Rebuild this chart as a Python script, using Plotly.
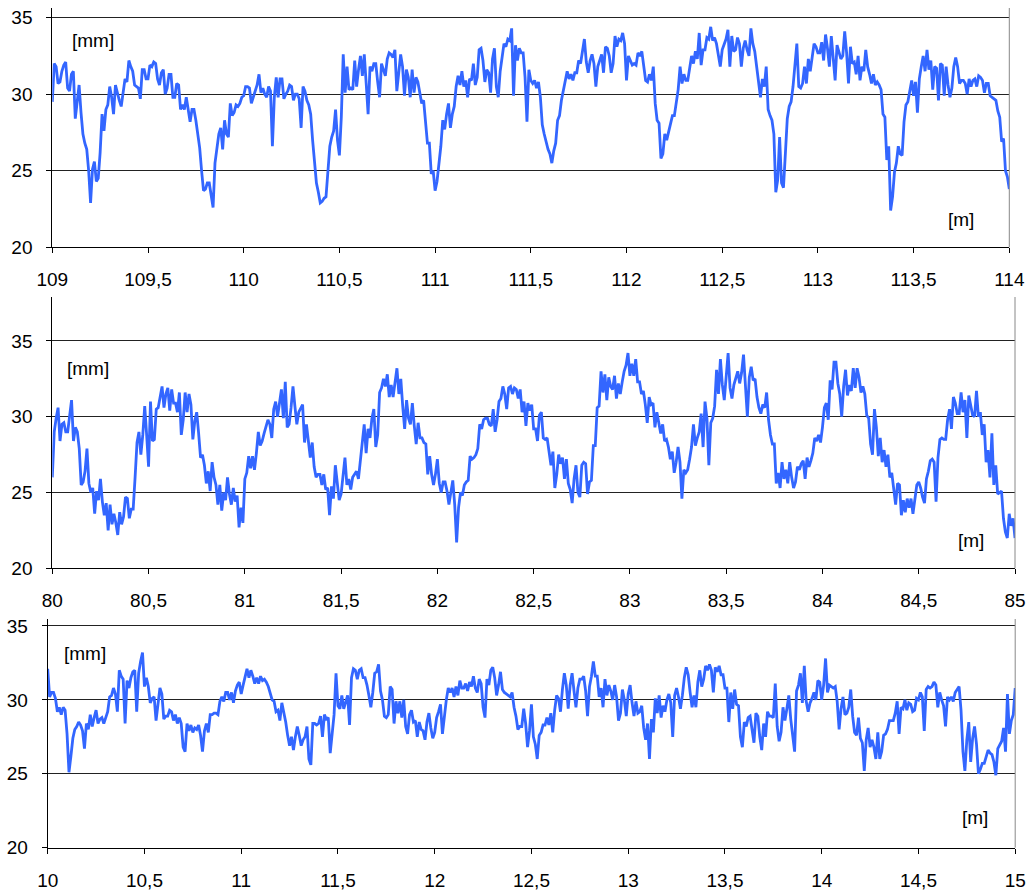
import numpy as np
import plotly.graph_objects as go

# distance sampling (m): readings on a 0.02 m grid ("on") and at the midpoints ("mid")
step_m = 0.02
start_1, start_2, start_3 = 109.0, 80.0, 10.0

# ---- panel 1 : 109 - 114 m  [mm]
depth_1_on = [
    29.5, 31.8, 30.8, 31.9, 30.4, 31.3, 28.4, 30.6, 27.4, 26.4,
    22.9, 25.6, 24.5, 28.7, 29.0, 30.5, 28.7, 30.0, 29.2, 31.0,
    32.2, 31.5, 30.5, 29.7, 31.6, 31.0, 31.8, 32.0, 30.6, 31.6,
    30.4, 31.3, 29.8, 30.6, 29.3, 29.8, 28.2, 29.0, 27.3, 25.0,
    23.8, 24.2, 22.6, 26.5, 27.8, 28.3, 27.2, 28.6, 29.3, 29.4,
    29.9, 30.5, 29.4, 30.3, 31.3, 30.4, 29.8, 30.2, 29.8, 29.8,
    31.0, 30.0, 30.6, 29.6, 30.0, 27.8, 30.2, 29.3, 27.0, 24.2,
    22.9, 23.2, 24.8, 27.2, 29.0, 26.0, 32.6, 31.8, 30.4, 32.2,
    31.6, 31.2, 30.7, 31.8, 32.0, 30.8, 32.0, 31.2, 32.7, 32.4,
    30.2, 32.6, 29.9, 31.1, 31.6, 31.1, 30.0, 29.6, 26.8, 24.8,
    23.7, 25.3, 28.3, 28.7, 27.8, 29.2, 31.2, 31.5, 30.9, 31.0,
    32.0, 31.1, 33.0, 30.8, 31.4, 32.3, 30.5, 31.5, 33.3, 33.6,
    34.3, 33.2, 33.0, 32.7, 28.2, 30.9, 30.9, 30.8, 28.0, 26.8,
    26.1, 26.3, 28.3, 29.6, 30.9, 31.0, 30.9, 31.4, 32.0, 33.6,
    31.4, 32.6, 30.5, 32.2, 31.4, 33.0, 31.4, 33.8, 33.6, 34.0,
    30.9, 32.2, 32.0, 32.7, 32.8, 30.9, 31.3, 31.8, 28.3, 25.8,
    27.4, 27.5, 28.6, 29.6, 31.8, 31.3, 30.9, 32.5, 32.8, 34.0,
    32.9, 33.7, 34.4, 33.7, 32.5, 32.9, 33.6, 31.8, 32.8, 33.7,
    31.8, 33.5, 32.5, 33.3, 31.9, 29.8, 30.5, 29.0, 28.3, 23.6,
    27.2, 23.9, 28.4, 29.5, 32.1, 30.5, 30.7, 30.7, 31.5, 33.3,
    32.7, 33.4, 33.9, 31.8, 32.4, 33.2, 32.3, 34.1, 30.7, 32.0,
    31.3, 30.9, 31.5, 31.8, 30.7, 30.6, 30.6, 28.7, 25.7, 22.4,
    24.9, 26.6, 26.0, 29.3, 30.3, 29.9, 28.8, 31.8, 31.5, 31.6,
    30.3, 31.7, 32.0, 29.9, 30.6, 30.4, 32.4, 30.7, 30.9, 30.0,
    30.5, 31.0, 31.2, 30.9, 30.7, 29.9, 29.7, 28.9, 26.9, 25.0,
    23.8,
]
depth_1_mid = [
    32.0, 30.7, 31.5, 32.1, 30.2, 31.5, 29.5, 28.8, 26.8, 25.0,
    25.1, 24.3, 26.2, 27.6, 29.3, 29.8, 30.6, 29.6, 30.2, 30.8,
    31.8, 30.6, 30.4, 31.6, 31.0, 31.9, 32.1, 31.0, 31.4, 30.0,
    31.3, 29.8, 30.7, 29.0, 29.0, 29.0, 29.0, 28.3, 26.5, 23.7,
    24.2, 23.4, 25.5, 27.4, 26.4, 27.4, 29.4, 28.8, 29.2, 29.8,
    30.5, 30.4, 29.8, 30.6, 30.1, 30.0, 30.5, 26.6, 31.1, 31.0,
    29.7, 30.2, 30.5, 30.0, 29.7, 30.5, 29.6, 28.7, 25.5, 23.6,
    23.0, 23.3, 26.6, 27.6, 27.0, 28.5, 30.1, 30.3, 30.3, 30.5,
    32.5, 32.6, 28.7, 31.5, 32.0, 29.8, 31.6, 32.3, 32.6, 32.9,
    31.4, 31.8, 31.6, 29.8, 30.1, 30.8, 29.4, 27.9, 26.8, 25.0,
    24.3, 26.6, 27.7, 29.4, 28.7, 30.5, 30.6, 30.5, 29.8, 30.9,
    30.6, 32.9, 32.2, 31.6, 30.1, 33.0, 29.8, 32.5, 33.1, 33.5,
    29.9, 32.2, 32.7, 31.1, 31.6, 30.7, 30.4, 29.8, 27.4, 26.4,
    25.5, 26.8, 28.6, 30.2, 31.5, 31.3, 31.4, 32.2, 32.9, 32.1,
    32.2, 32.0, 31.8, 32.6, 33.1, 32.5, 32.0, 33.1, 33.5, 33.3,
    32.5, 31.9, 31.9, 32.5, 31.9, 30.8, 30.9, 29.4, 28.1, 26.1,
    27.0, 27.9, 28.6, 30.3, 30.7, 30.9, 31.8, 32.0, 32.3, 31.9,
    32.9, 33.6, 33.5, 33.3, 31.8, 33.3, 34.2, 33.8, 32.9, 33.3,
    33.0, 32.9, 34.3, 32.8, 30.9, 31.0, 31.8, 28.6, 27.4, 24.4,
    24.2, 26.1, 29.2, 30.5, 33.3, 30.4, 31.8, 32.3, 32.5, 33.1,
    32.7, 32.2, 33.0, 33.8, 30.9, 32.7, 32.5, 32.7, 33.1, 32.1,
    32.5, 31.8, 32.9, 31.3, 31.3, 30.8, 30.3, 28.5, 26.6, 23.3,
    25.5, 26.1, 28.2, 29.5, 30.9, 30.8, 31.0, 32.5, 32.9, 32.2,
    31.8, 29.6, 31.9, 31.8, 29.8, 31.8, 31.8, 30.9, 30.7, 31.0,
    30.9, 30.5, 31.1, 30.1, 30.7, 29.8, 29.6, 28.5, 27.1, 24.6,
]

# ---- panel 2 : 80 - 85 m  [mm]
depth_2_on = [
    26.0, 29.9, 28.4, 29.6, 29.0, 31.1, 29.3, 27.9, 25.7, 27.9,
    25.0, 23.6, 24.5, 24.4, 24.3, 24.2, 23.6, 22.2, 22.9, 24.7,
    23.3, 23.9, 28.3, 27.5, 30.7, 26.7, 28.4, 30.5, 31.2, 30.6,
    31.9, 31.8, 30.9, 31.6, 29.8, 30.3, 30.8, 29.7, 28.9, 27.5,
    25.6, 25.1, 26.0, 24.2, 23.8, 24.5, 24.9, 25.3, 24.8, 24.0,
    25.9, 27.4, 27.4, 27.6, 28.1, 28.9, 29.8, 28.6, 31.0, 30.9,
    29.9, 29.3, 30.6, 30.7, 30.3, 30.8, 29.5, 27.3, 26.7, 26.2,
    25.5, 25.2, 23.5, 24.6, 25.6, 24.9, 27.3, 25.9, 26.0, 26.4,
    27.2, 29.5, 29.2, 29.9, 28.0, 31.6, 32.5, 32.8, 32.1, 32.4,
    31.5, 30.7, 31.1, 29.5, 29.4, 29.6, 28.6, 28.2, 27.4, 25.5,
    27.2, 25.0, 25.7, 24.2, 25.8, 21.7, 25.0, 25.5, 25.8, 27.2,
    27.5, 29.5, 29.8, 29.9, 29.4, 29.0, 31.0, 32.0, 30.5, 32.0,
    31.9, 31.2, 30.3, 29.4, 30.4, 29.2, 28.4, 30.3, 28.5, 27.7,
    27.7, 26.2, 26.9, 25.9, 25.6, 24.3, 26.8, 24.7, 27.0, 24.9,
    25.8, 28.1, 30.7, 31.6, 31.1, 32.0, 32.7, 32.2, 32.3, 33.4,
    32.7, 32.7, 32.3, 31.5, 30.8, 31.3, 30.9, 30.3, 28.9, 28.4,
    28.0, 27.7, 27.0, 27.0, 26.5, 26.5, 28.0, 28.1, 29.0, 28.0,
    29.9, 29.6, 30.7, 31.5, 32.1, 32.5, 31.9, 32.1, 33.0, 32.9,
    32.3, 32.6, 32.4, 31.3, 30.2, 30.6, 29.8, 28.2, 25.6, 25.3,
    25.9, 25.6, 26.0, 25.7, 26.5, 27.1, 27.3, 27.1, 28.6, 28.8,
    29.3, 30.9, 32.4, 33.6, 32.2, 30.0, 33.1, 32.1, 33.2, 33.2,
    31.6, 31.5, 29.9, 27.5, 29.3, 28.6, 27.8, 27.5, 26.3, 24.2,
    25.5, 24.5, 24.6, 24.6, 24.4, 25.7, 24.7, 25.9, 27.1, 27.0,
    27.3, 28.6, 28.5, 30.5, 31.3, 30.2, 31.6, 31.1, 31.4, 30.1,
    31.7, 30.3, 29.5, 27.8, 28.9, 26.8, 25.0, 23.3, 22.0, 22.8,
    22.0,
]
depth_2_mid = [
    29.0, 30.6, 29.5, 29.0, 30.1, 28.4, 29.0, 25.5, 26.4, 25.6,
    25.3, 25.1, 25.9, 23.5, 22.5, 22.9, 23.0, 23.7, 23.4, 24.6,
    23.9, 26.0, 29.0, 28.8, 28.8, 31.0, 28.5, 30.6, 32.0, 31.5,
    30.4, 30.9, 30.3, 28.8, 31.6, 31.5, 28.5, 30.3, 27.3, 26.8,
    26.4, 27.0, 25.5, 25.5, 25.0, 26.0, 24.2, 24.4, 22.7, 23.0,
    26.3, 26.6, 26.5, 29.0, 28.4, 29.4, 29.5, 30.5, 30.0, 31.8,
    32.3, 29.5, 32.0, 29.5, 30.6, 28.3, 28.4, 28.3, 26.0, 26.2,
    26.2, 25.3, 25.4, 26.8, 24.5, 26.2, 25.5, 25.2, 26.2, 25.9,
    28.5, 27.6, 28.6, 30.5, 28.8, 31.9, 32.0, 31.3, 31.3, 33.2,
    32.5, 29.2, 29.9, 30.9, 28.2, 28.6, 28.3, 26.2, 26.2, 26.2,
    25.6, 25.7, 25.1, 25.0, 24.2, 24.0, 24.8, 25.7, 27.4, 27.3,
    27.9, 29.2, 29.9, 29.5, 30.5, 29.8, 31.2, 31.5, 31.9, 31.5,
    31.8, 31.8, 31.0, 30.9, 30.8, 29.2, 30.1, 28.6, 28.6, 26.8,
    25.3, 27.5, 27.3, 27.2, 25.2, 25.9, 25.0, 26.8, 26.9, 25.7,
    28.1, 30.6, 33.0, 32.8, 32.6, 31.8, 31.2, 31.5, 33.0, 34.2,
    33.5, 33.8, 32.3, 31.7, 29.6, 30.8, 29.3, 29.7, 29.5, 28.5,
    27.2, 26.3, 28.0, 24.6, 26.3, 27.2, 29.5, 28.6, 30.2, 31.0,
    26.8, 29.9, 33.1, 33.8, 31.1, 34.2, 31.2, 32.5, 32.2, 34.1,
    30.0, 33.3, 32.5, 30.6, 30.8, 31.6, 28.8, 28.2, 26.3, 27.0,
    26.5, 27.0, 25.3, 26.7, 26.9, 25.9, 26.7, 27.6, 28.4, 28.3,
    30.6, 29.8, 31.8, 33.6, 31.5, 32.0, 31.4, 31.7, 31.9, 32.6,
    32.0, 30.1, 28.2, 30.5, 27.4, 27.0, 26.7, 26.0, 25.3, 25.6,
    23.5, 23.7, 24.0, 23.6, 25.5, 25.3, 24.3, 26.4, 27.2, 24.4,
    28.5, 28.5, 29.8, 29.2, 30.9, 30.2, 30.3, 28.6, 30.6, 30.0,
    30.0, 28.8, 27.0, 26.0, 25.5, 24.9, 25.1, 22.4, 23.6, 23.3,
]

# ---- panel 3 : 10 - 15 m  [mm]
depth_3_on = [
    32.1, 30.5, 30.1, 29.5, 29.5, 27.7, 26.2, 28.0, 28.5, 27.9,
    28.4, 29.0, 28.8, 28.4, 28.8, 28.8, 30.2, 30.8, 29.2, 31.6,
    28.4, 30.8, 31.9, 29.2, 32.6, 30.9, 30.9, 30.1, 28.6, 30.8,
    28.7, 28.9, 29.2, 29.0, 28.8, 26.8, 28.4, 28.3, 28.1, 28.3,
    26.5, 28.4, 29.0, 29.1, 29.0, 30.2, 30.5, 30.0, 29.8, 31.0,
    30.4, 31.6, 31.5, 31.6, 31.5, 31.6, 31.4, 30.9, 30.0, 29.2,
    28.6, 29.2, 27.6, 27.5, 27.5, 27.6, 27.3, 28.2, 25.6, 28.4,
    28.4, 27.5, 28.7, 26.4, 29.0, 29.6, 30.3, 29.8, 28.3, 32.1,
    31.4, 32.1, 31.5, 30.3, 30.5, 31.9, 30.6, 28.9, 29.0, 30.7,
    29.9, 29.9, 30.0, 27.7, 29.3, 28.6, 28.5, 27.9, 28.5, 28.1,
    27.8, 29.2, 27.7, 30.0, 30.5, 30.2, 30.3, 30.8, 31.1, 31.2,
    31.6, 30.5, 31.1, 28.8, 31.0, 32.2, 30.3, 31.9, 30.5, 30.3,
    30.5, 28.9, 28.2, 29.4, 26.8, 29.7, 27.0, 27.6, 28.3, 28.8,
    29.1, 29.3, 30.1, 30.7, 31.0, 31.0, 30.6, 30.8, 31.4, 30.6,
    30.9, 32.6, 31.6, 30.8, 31.4, 31.0, 30.0, 30.2, 29.1, 30.0,
    30.4, 29.8, 29.9, 29.2, 28.1, 28.4, 28.7, 30.1, 30.3, 29.6,
    30.0, 29.8, 30.3, 30.2, 30.3, 32.2, 30.5, 30.3, 31.2, 30.9,
    32.3, 32.4, 30.5, 31.9, 31.7, 30.8, 28.5, 29.4, 29.7, 27.5,
    28.5, 28.8, 28.0, 29.1, 27.5, 28.4, 29.2, 28.9, 31.1, 27.2,
    29.5, 29.4, 28.7, 26.5, 31.0, 29.8, 29.9, 29.8, 30.5, 31.3,
    30.0, 32.8, 31.0, 30.8, 29.9, 29.4, 29.0, 29.5, 28.9, 27.6,
    27.4, 25.2, 28.1, 27.3, 26.0, 26.0, 27.6, 28.0, 28.6, 29.1,
    27.7, 29.4, 29.3, 29.7, 29.3, 30.0, 30.2, 30.7, 30.8, 31.2,
    29.5, 30.0, 28.2, 30.0, 29.9, 30.7, 29.3, 25.2, 28.5, 27.4,
    27.0, 25.3, 25.7, 26.6, 26.3, 24.9, 27.0, 28.1, 30.4, 28.6,
    30.8,
]
depth_3_mid = [
    30.2, 30.5, 29.2, 29.0, 29.3, 25.1, 27.4, 28.2, 28.3, 26.7,
    28.0, 28.2, 29.3, 28.7, 28.4, 29.2, 30.3, 30.4, 32.0, 31.4,
    31.3, 31.5, 32.0, 31.8, 33.2, 31.5, 29.8, 30.2, 29.7, 30.4,
    28.9, 29.3, 28.6, 28.4, 28.4, 26.5, 27.9, 27.8, 28.0, 27.6,
    27.9, 27.8, 29.0, 29.1, 29.9, 29.9, 30.5, 30.5, 30.6, 31.2,
    31.0, 32.1, 32.0, 31.1, 31.1, 31.3, 31.2, 30.5, 29.9, 29.3,
    29.8, 28.5, 26.9, 26.6, 28.2, 26.9, 27.5, 26.0, 28.4, 28.3,
    28.9, 29.0, 28.8, 27.5, 31.8, 29.4, 29.4, 30.3, 31.5, 32.0,
    32.0, 31.5, 31.0, 29.5, 31.8, 32.4, 30.0, 28.8, 30.9, 28.4,
    29.1, 28.8, 28.2, 29.0, 28.5, 27.5, 28.0, 27.3, 29.1, 27.4,
    28.8, 29.7, 28.9, 30.8, 30.8, 30.9, 31.3, 30.8, 30.6, 30.9,
    30.8, 31.4, 29.5, 31.4, 32.0, 31.5, 31.0, 30.7, 30.4, 30.2,
    29.5, 28.0, 28.2, 28.4, 27.9, 27.5, 26.0, 27.8, 28.3, 28.3,
    27.8, 30.3, 29.2, 31.8, 29.4, 31.8, 29.5, 31.4, 31.6, 28.9,
    31.6, 31.6, 30.2, 29.5, 30.3, 30.6, 31.0, 28.6, 30.7, 28.9,
    31.0, 28.9, 29.1, 29.6, 27.3, 26.0, 27.8, 29.1, 28.8, 29.2,
    30.4, 27.5, 30.8, 29.4, 31.5, 31.7, 29.5, 29.5, 32.0, 31.4,
    32.0, 32.0, 32.2, 32.3, 31.7, 30.8, 30.5, 30.7, 29.6, 26.8,
    28.2, 28.9, 27.1, 28.9, 26.6, 27.5, 28.9, 28.8, 28.2, 27.8,
    28.6, 30.3, 27.6, 30.6, 31.8, 32.3, 29.2, 30.1, 30.0, 31.2,
    31.0, 30.5, 30.9, 30.9, 28.0, 30.2, 29.1, 30.7, 27.8, 28.8,
    27.1, 27.3, 26.8, 26.8, 27.8, 26.5, 27.7, 28.6, 28.6, 29.9,
    29.5, 30.0, 29.8, 29.2, 30.1, 30.5, 27.9, 30.9, 30.9, 31.0,
    30.5, 29.6, 30.2, 30.2, 30.5, 30.9, 26.5, 27.3, 25.8, 28.2,
    25.0, 25.7, 26.2, 26.4, 25.8, 26.7, 27.2, 26.5, 27.7, 29.0,
]

ticks_1 = ["109", "109,5", "110", "110,5", "111", "111,5", "112", "112,5", "113", "113,5", "114"]
ticks_2 = ["80", "80,5", "81", "81,5", "82", "82,5", "83", "83,5", "84", "84,5", "85"]
ticks_3 = ["10", "10,5", "11", "11,5", "12", "12,5", "13", "13,5", "14", "14,5", "15"]
y_ticks = [20, 25, 30, 35]


def merge(start, on, mid):
    """Combine grid readings and midpoint readings in distance order."""
    x_on = start + step_m * np.arange(len(on))
    x_mid = start + step_m / 2 + step_m * np.arange(len(mid))
    x = np.concatenate([x_on, x_mid])
    y = np.concatenate([np.asarray(on, float), np.asarray(mid, float)])
    order = np.argsort(x, kind="stable")
    return np.round(x[order], 4), y[order]


W, H = 1029, 890
FONT = "Liberation Sans, Arial, sans-serif"
LINE = "#3366FF"

panels = [
    # start, on, mid, ticks, x-domain px, y-domain px (top,bottom), y top
    (start_1, depth_1_on, depth_1_mid, ticks_1, (52.3, 1009.3), (8, 247.3), 35.63),
    (start_2, depth_2_on, depth_2_mid, ticks_2, (52.3, 1015.0), (297, 568.3), 37.9),
    (start_3, depth_3_on, depth_3_mid, ticks_3, (47.7, 1015.2), (619, 847.7), 35.47),
]
ann_pos = [
    ((0.0425, 0.866), (0.9495, 0.118)),
    ((0.0366, 0.738), (0.9548, 0.104)),
    ((0.0386, 0.851), (0.958, 0.134)),
]

fig = go.Figure()
layout = dict(
    width=W, height=H, margin=dict(l=0, r=0, t=0, b=0, autoexpand=False),
    paper_bgcolor="white", plot_bgcolor="white", showlegend=False,
    font=dict(family=FONT, size=19, color="black"),
)
shapes, annotations = [], []
for i, (start, on, mid, ticks, (xl, xr), (yt, yb), ytop) in enumerate(panels, 1):
    sfx = "" if i == 1 else str(i)
    x, y = merge(start, on, mid)
    fig.add_trace(go.Scatter(
        x=x, y=y, mode="lines", xaxis="x" + sfx, yaxis="y" + sfx,
        line=dict(color=LINE, width=2.8), hoverinfo="skip",
    ))
    tickvals = [start + 0.5 * j for j in range(len(ticks))]
    layout["xaxis" + sfx] = dict(
        domain=[xl / W, xr / W], anchor="y" + sfx, range=[start, start + 5],
        tickvals=tickvals, ticktext=ticks, ticks="outside", ticklen=5,
        tickcolor="black", showline=True, linecolor="black", linewidth=1,
        showgrid=False, zeroline=False, ticklabelstandoff=10, automargin=False,
        tickfont=dict(family=FONT, size=19, color="black"),
    )
    layout["yaxis" + sfx] = dict(
        domain=[1 - yb / H, 1 - yt / H], anchor="x" + sfx, range=[20, ytop],
        tickvals=y_ticks, ticks="outside", ticklen=5, tickcolor="black",
        showline=True, linecolor="black", linewidth=1,
        showgrid=True, gridcolor="#222222", gridwidth=1, zeroline=False,
        ticklabelstandoff=10, automargin=False,
        tickfont=dict(family=FONT, size=19, color="black"),
    )
    shapes.append(dict(type="line", xref="x%s domain" % sfx, yref="y%s domain" % sfx,
                       x0=1, x1=1, y0=0, y1=1, line=dict(color="#888888", width=1)))
    (mx, my), (ux, uy) = ann_pos[i - 1]
    annotations.append(dict(text="[mm]", xref="x%s domain" % sfx, yref="y%s domain" % sfx,
                            x=mx, y=my, showarrow=False, xanchor="center", yanchor="middle",
                            font=dict(family=FONT, size=19, color="black")))
    annotations.append(dict(text="[m]", xref="x%s domain" % sfx, yref="y%s domain" % sfx,
                            x=ux, y=uy, showarrow=False, xanchor="center", yanchor="middle",
                            font=dict(family=FONT, size=19, color="black")))

layout["shapes"] = shapes
layout["annotations"] = annotations
fig.update_layout(**layout)
# the page body has a default 8px margin; remove it so the figure fills the window exactly
fig.write_html(
    "out.html",
    config={"displayModeBar": False, "staticPlot": True},
    post_script="document.body.style.margin='0';document.body.style.overflow='hidden';",
)
